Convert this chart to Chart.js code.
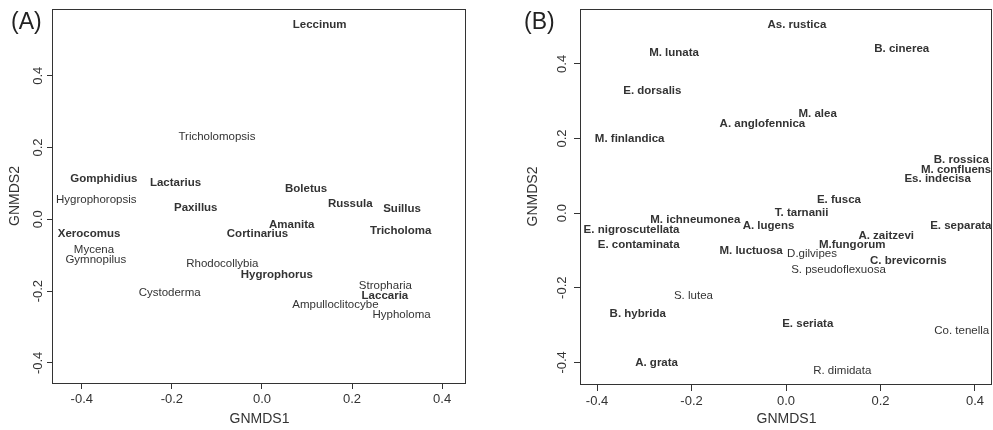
<!DOCTYPE html>
<html>
<head>
<meta charset="utf-8">
<script src="https://cdn.jsdelivr.net/npm/chart.js@4.4.1/dist/chart.umd.min.js"></script>
<style>
  body { margin: 0; width: 993px; height: 430px; overflow: hidden; background: #fff; font-family: "Liberation Sans", Arial, sans-serif; }
  .panel { position: absolute; top: 0; height: 430px; }
  #pa { left: 0; width: 480px; }
  #pb { left: 500px; width: 500px; }
  .tag { position: absolute; top: 10px; font-size: 23px; color: #222; line-height: 1; }
</style>
</head>
<body>
<div class="panel" id="pa"><canvas id="chartA"></canvas></div>
<div class="panel" id="pb"><canvas id="chartB"></canvas></div>
<div class="tag" style="left:11px">(A)</div>
<div class="tag" style="left:524px">(B)</div>
<script>
// panel A: genera
const generaA = ["Leccinum", "Tricholomopsis", "Gomphidius", "Lactarius", "Hygrophoropsis", "Paxillus",
  "Boletus", "Russula", "Suillus", "Amanita", "Cortinarius", "Xerocomus", "Tricholoma", "Mycena",
  "Gymnopilus", "Rhodocollybia", "Hygrophorus", "Cystoderma", "Stropharia", "Laccaria",
  "Ampulloclitocybe", "Hypholoma"]
const nmds1A = [0.128, -0.100, -0.351, -0.192, -0.368, -0.147, 0.098, 0.196, 0.311, 0.066, -0.010,
  -0.384, 0.308, -0.373, -0.369, -0.088, 0.033, -0.205, 0.274, 0.273, 0.163, 0.310]
const nmds2A = [0.541, 0.230, 0.114, 0.101, 0.053, 0.031, 0.084, 0.043, 0.029, -0.016, -0.040,
  -0.040, -0.033, -0.086, -0.113, -0.124, -0.156, -0.205, -0.184, -0.214, -0.239, -0.267]
const boldA = ["Leccinum", "Gomphidius", "Lactarius", "Paxillus", "Boletus", "Russula", "Suillus",
  "Amanita", "Cortinarius", "Xerocomus", "Tricholoma", "Hygrophorus", "Laccaria"]

// panel B: species
const speciesB = ["As. rustica", "M. lunata", "B. cinerea", "E. dorsalis", "M. alea", "A. anglofennica",
  "M. finlandica", "B. rossica", "M. confluens", "Es. indecisa", "E. fusca", "T. tarnanii",
  "M. ichneumonea", "A. lugens", "E. nigroscutellata", "E. separata", "E. contaminata", "A. zaitzevi",
  "M.fungorum", "M. luctuosa", "D.gilvipes", "C. brevicornis", "S. pseudoflexuosa", "S. lutea",
  "B. hybrida", "E. seriata", "Co. tenella", "A. grata", "R. dimidata"]
const nmds1B = [0.023, -0.237, 0.245, -0.283, 0.067, -0.050, -0.331, 0.371, 0.360, 0.321, 0.112, 0.033,
  -0.192, -0.037, -0.327, 0.370, -0.312, 0.212, 0.140, -0.074, 0.055, 0.259, 0.111, -0.196,
  -0.314, 0.046, 0.372, -0.274, 0.119]
const nmds2B = [0.504, 0.429, 0.439, 0.328, 0.267, 0.240, 0.199, 0.142, 0.117, 0.091, 0.035, 0.002,
  -0.019, -0.033, -0.046, -0.035, -0.085, -0.061, -0.084, -0.102, -0.109, -0.129, -0.151, -0.223,
  -0.271, -0.298, -0.316, -0.402, -0.424]
const plainB = ["D.gilvipes", "S. pseudoflexuosa", "S. lutea", "Co. tenella", "R. dimidata"]

const tickValues = [-0.4, -0.2, 0.0, 0.2, 0.4]

const FONT = "'Liberation Sans', Arial, sans-serif"
const INK = "#333"

const labelPlugin = {
  id: "labels",
  afterDatasetsDraw(chart) {
    const ctx = chart.ctx
    const ds = chart.data.datasets[0]
    const meta = chart.getDatasetMeta(0)
    ctx.save()
    ctx.textAlign = "center"
    ctx.textBaseline = "middle"
    ctx.fillStyle = INK
    meta.data.forEach((pt, i) => {
      ctx.font = (ds.bold[i] ? "bold " : "") + "11.5px " + FONT
      ctx.fillText(ds.names[i], pt.x, pt.y)
    })
    ctx.restore()
  }
}

const boxPlugin = {
  id: "box",
  afterDraw(chart) {
    const { left, top, right, bottom } = chart.chartArea
    const ctx = chart.ctx
    ctx.save()
    ctx.strokeStyle = INK
    ctx.lineWidth = 1
    ctx.strokeRect(Math.round(left) - 0.5, Math.round(top) + 0.5, Math.round(right - left), Math.round(bottom - top))
    ctx.restore()
  }
}

function makeChart(id, names, xs, ys, bold, opt) {
  new Chart(document.getElementById(id), {
    type: "scatter",
    data: {
      datasets: [{
        data: xs.map((x, i) => ({ x: x, y: ys[i] })),
        names: names,
        bold: bold,
        pointRadius: 0,
        pointHoverRadius: 0
      }]
    },
    options: {
      responsive: true,
      maintainAspectRatio: false,
      animation: false,
      events: [],
      layout: { padding: opt.padding },
      plugins: { legend: { display: false }, tooltip: { enabled: false } },
      scales: {
        x: {
          type: "linear",
          min: opt.xmin,
          max: opt.xmax,
          afterBuildTicks: s => { s.ticks = tickValues.map(v => ({ value: v })) },
          afterFit: s => { s.height = opt.xh },
          border: { display: false },
          grid: { drawOnChartArea: false, drawTicks: true, tickLength: opt.tl, color: INK },
          ticks: { color: INK, font: { family: FONT, size: 13 }, padding: 3, maxRotation: 0,
            callback: v => v.toFixed(1) },
          title: { display: true, text: "GNMDS1", color: INK, font: { family: FONT, size: 14 },
            padding: { top: 0, bottom: 2 } }
        },
        y: {
          type: "linear",
          min: opt.ymin,
          max: opt.ymax,
          afterBuildTicks: s => { s.ticks = tickValues.map(v => ({ value: v })) },
          afterFit: s => { s.width = opt.yw },
          border: { display: false },
          grid: { drawOnChartArea: false, drawTicks: true, tickLength: opt.tl, color: INK },
          ticks: { color: INK, font: { family: FONT, size: 13 }, padding: opt.yp,
            minRotation: 90, maxRotation: 90, crossAlign: "center",
            callback: v => v.toFixed(1) },
          title: { display: true, text: "GNMDS2", color: INK, font: { family: FONT, size: 14 },
            padding: { top: 7, bottom: 0 } }
        }
      }
    },
    plugins: [labelPlugin, boxPlugin]
  })
}

makeChart("chartA", generaA, nmds1A, nmds2A, generaA.map(n => boldA.includes(n)), {
  xmin: -0.464, xmax: 0.453, ymin: -0.456, ymax: 0.586,
  padding: { left: 0, top: 9, right: 14, bottom: 0 }, xh: 47, yw: 53, tl: 6, yp: -3
})

makeChart("chartB", speciesB, nmds1B, nmds2B, speciesB.map(n => !plainB.includes(n)), {
  xmin: -0.434, xmax: 0.436, ymin: -0.458, ymax: 0.547,
  padding: { left: 18, top: 9, right: 8, bottom: 0 }, xh: 46, yw: 63, tl: 7, yp: 0
})
</script>
</body>
</html>
